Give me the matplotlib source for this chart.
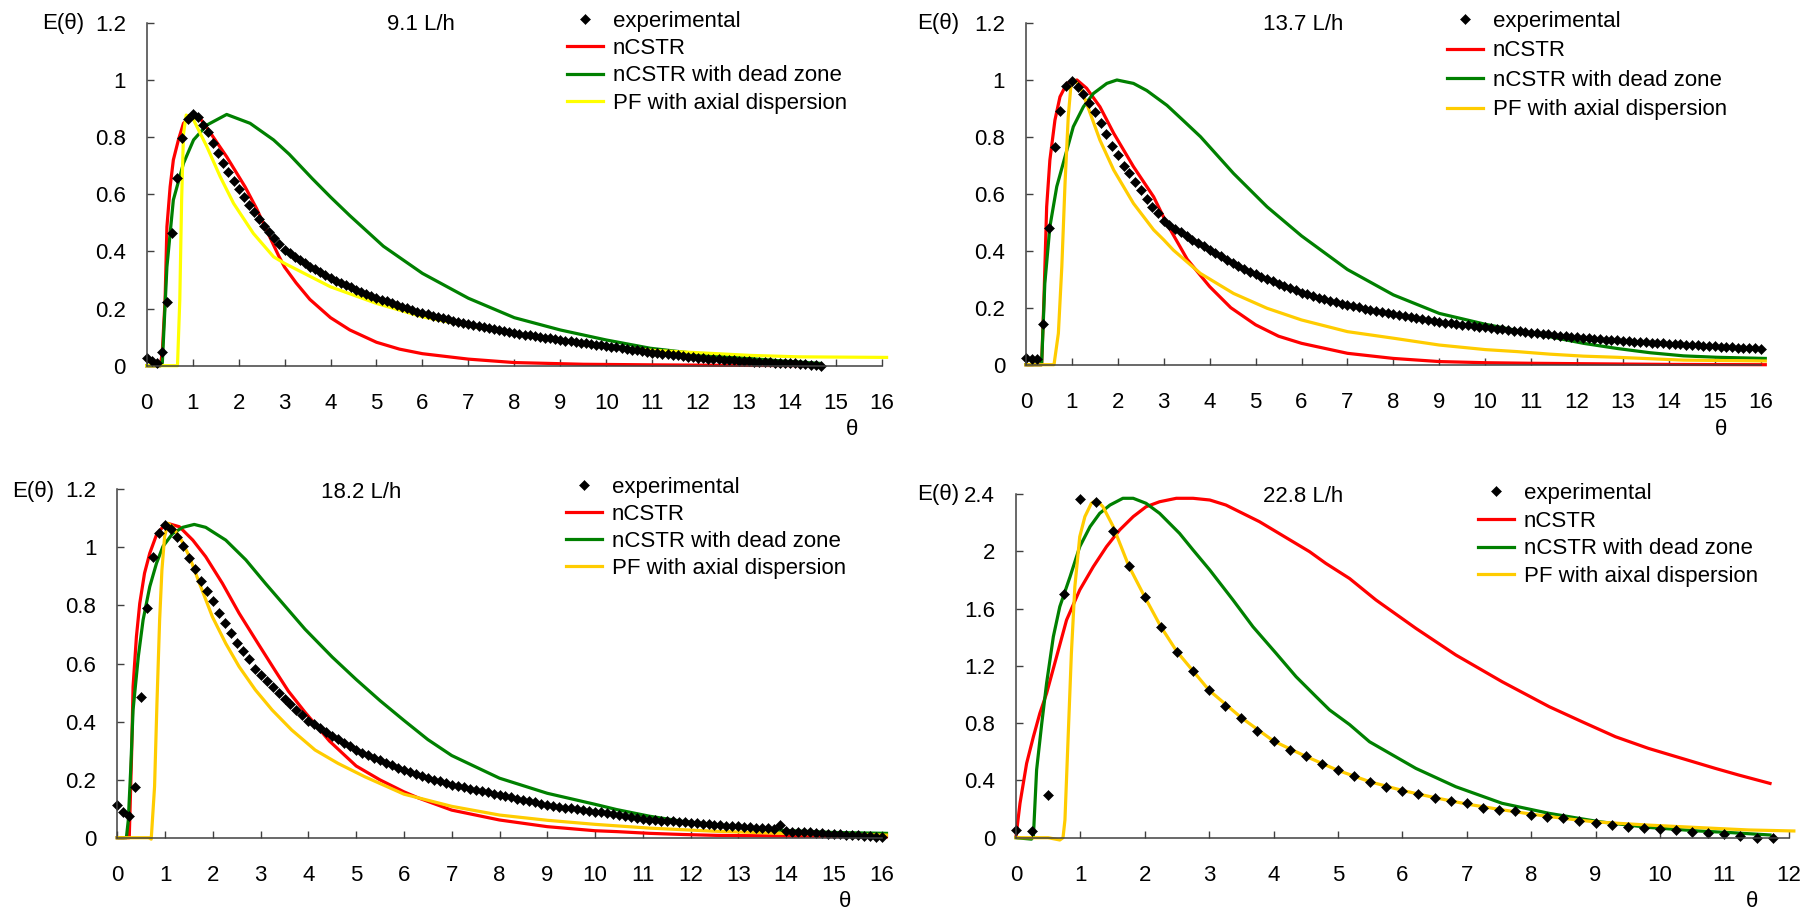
import numpy as np
import matplotlib.pyplot as plt

plt.rcParams['font.family'] = ['Liberation Sans', 'DejaVu Sans']

W, H = 1809, 923

# ---------------- 9.1 L/h ----------------
exp1_step = 1 / 9
exp1 = [0.026, 0.016, 0.008, 0.047, 0.223, 0.463, 0.658, 0.795, 0.862, 0.879,
        0.869, 0.842, 0.816, 0.780, 0.743, 0.708, 0.676, 0.646, 0.617, 0.589,
        0.562, 0.537, 0.513, 0.490, 0.467, 0.446, 0.425, 0.405, 0.393, 0.381,
        0.370, 0.358, 0.347, 0.337, 0.327, 0.317, 0.307, 0.298, 0.290, 0.282,
        0.274, 0.266, 0.258, 0.251, 0.244, 0.237, 0.231, 0.225, 0.219, 0.213,
        0.207, 0.201, 0.195, 0.189, 0.184, 0.180, 0.175, 0.171, 0.167, 0.163,
        0.158, 0.154, 0.150, 0.146, 0.143, 0.139, 0.136, 0.132, 0.129, 0.125,
        0.122, 0.118, 0.115, 0.112, 0.109, 0.107, 0.104, 0.101, 0.098, 0.096,
        0.093, 0.090, 0.088, 0.085, 0.083, 0.081, 0.078, 0.076, 0.074, 0.071,
        0.069, 0.066, 0.064, 0.061, 0.059, 0.056, 0.054, 0.051, 0.049, 0.046,
        0.044, 0.042, 0.040, 0.038, 0.036, 0.033, 0.031, 0.029, 0.027, 0.026,
        0.025, 0.023, 0.022, 0.021, 0.020, 0.019, 0.017, 0.016, 0.015, 0.014,
        0.014, 0.013, 0.012, 0.011, 0.011, 0.010, 0.009, 0.008, 0.006, 0.005,
        0.003, 0.002, 0.000]
red1_t = [0, 0.30, 0.34, 0.40, 0.44, 0.51, 0.58, 0.69, 0.80, 0.98, 1.16, 1.32, 1.74,
          2.14, 2.39, 2.62, 2.87, 3.0, 3.25, 3.55, 4.0, 4.42, 5.0, 5.5, 6.0, 7.0,
          8.0, 9.5, 11.0, 13.0, 14.66]
red1 = [0, 0, 0.05, 0.23, 0.486, 0.626, 0.72, 0.79, 0.848, 0.877, 0.866, 0.83, 0.731,
        0.626, 0.55, 0.47, 0.385, 0.345, 0.29, 0.232, 0.168, 0.125, 0.082, 0.058,
        0.042, 0.023, 0.011, 0.005, 0.003, 0.001, 0.0]
green1_t = [0, 0.30, 0.34, 0.44, 0.58, 0.80, 1.02, 1.31, 1.74, 2.25, 2.76, 3.1, 3.6,
            4.0, 4.42, 5.15, 6.0, 7.0, 8.0, 9.0, 10.0, 10.96, 12.41, 13.86, 14.66]
green1 = [0, 0, 0.01, 0.346, 0.58, 0.708, 0.79, 0.842, 0.879, 0.848, 0.79, 0.74,
          0.655, 0.59, 0.525, 0.418, 0.323, 0.236, 0.168, 0.125, 0.09, 0.061, 0.034,
          0.016, 0.008]
pf1_t = [0, 0.67, 0.72, 0.76, 0.80, 0.86, 1.02, 1.31, 1.60, 1.89, 2.32, 2.76, 3.0,
         4.0, 5.0, 6.0, 7.0, 8.0, 9.5, 10.96, 12.05, 13.14, 14.2, 16.1]
pf1 = [0, 0, 0.23, 0.58, 0.81, 0.877, 0.86, 0.766, 0.661, 0.568, 0.463, 0.381, 0.358,
       0.276, 0.218, 0.171, 0.139, 0.111, 0.074, 0.054, 0.045, 0.036, 0.031, 0.029]

# ---------------- 13.7 L/h ----------------
exp2_step = 0.125
exp2 = [0.022, 0.019, 0.019, 0.142, 0.481, 0.764, 0.891, 0.978, 0.995, 0.975,
        0.949, 0.917, 0.888, 0.847, 0.808, 0.768, 0.736, 0.698, 0.671, 0.640,
        0.613, 0.581, 0.554, 0.531, 0.505, 0.491, 0.477, 0.464, 0.451, 0.439,
        0.427, 0.415, 0.403, 0.391, 0.380, 0.369, 0.358, 0.347, 0.337, 0.327,
        0.317, 0.308, 0.300, 0.292, 0.284, 0.276, 0.268, 0.261, 0.253, 0.247,
        0.241, 0.235, 0.230, 0.224, 0.219, 0.214, 0.209, 0.205, 0.201, 0.197,
        0.193, 0.189, 0.185, 0.181, 0.178, 0.174, 0.171, 0.168, 0.164, 0.161,
        0.158, 0.154, 0.151, 0.148, 0.146, 0.143, 0.141, 0.138, 0.136, 0.133,
        0.131, 0.129, 0.126, 0.124, 0.122, 0.119, 0.117, 0.114, 0.112, 0.110,
        0.108, 0.106, 0.104, 0.102, 0.100, 0.098, 0.096, 0.094, 0.093, 0.091,
        0.090, 0.088, 0.087, 0.085, 0.084, 0.083, 0.081, 0.080, 0.079, 0.077,
        0.076, 0.075, 0.073, 0.072, 0.071, 0.070, 0.069, 0.068, 0.067, 0.066,
        0.064, 0.063, 0.062, 0.061, 0.060, 0.059, 0.058, 0.057, 0.055]
red2_t = [0, 0.34, 0.39, 0.45, 0.52, 0.63, 0.74, 0.89, 1.11, 1.32, 1.61, 1.91, 2.34,
          2.78, 3.05, 3.51, 4.0, 4.46, 5.0, 5.5, 6.0, 7.0, 8.0, 9.0, 10.0, 11.0,
          12.5, 14.0, 16.1]
red2 = [0, 0, 0.227, 0.554, 0.718, 0.858, 0.94, 0.987, 0.999, 0.97, 0.905, 0.812,
        0.695, 0.589, 0.50, 0.37, 0.274, 0.20, 0.14, 0.10, 0.075, 0.040, 0.022,
        0.011, 0.007, 0.005, 0.003, 0.001, 0.0]
green2_t = [0, 0.34, 0.41, 0.52, 0.67, 0.89, 1.03, 1.25, 1.47, 1.76, 1.98, 2.34, 2.63,
            3.07, 3.43, 3.80, 4.52, 5.25, 6.0, 7.0, 8.0, 9.0, 10.0, 10.69, 11.41,
            12.14, 12.87, 13.59, 14.32, 15.05, 16.1]
green2 = [0, 0, 0.285, 0.484, 0.625, 0.753, 0.835, 0.905, 0.952, 0.987, 0.999, 0.987,
          0.962, 0.91, 0.856, 0.80, 0.671, 0.554, 0.452, 0.334, 0.245, 0.18, 0.142,
          0.12, 0.098, 0.075, 0.057, 0.042, 0.031, 0.026, 0.022]
pf2_t = [0, 0.61, 0.705, 0.78, 0.85, 0.92, 0.975, 1.05, 1.18, 1.32, 1.61, 1.91, 2.34,
         2.78, 3.0, 3.21, 3.8, 4.52, 5.25, 6.0, 7.0, 8.0, 9.0, 10.0, 10.69, 11.41,
         12.14, 12.87, 13.59, 14.32, 16.1]
pf2 = [0, 0, 0.11, 0.344, 0.636, 0.87, 0.973, 0.999, 0.975, 0.917, 0.788, 0.683,
       0.566, 0.473, 0.438, 0.402, 0.32, 0.25, 0.198, 0.157, 0.116, 0.093, 0.069,
       0.053, 0.046, 0.037, 0.030, 0.026, 0.021, 0.016, 0.013]

# ---------------- 18.2 L/h ----------------
exp3_step = 0.125
exp3 = [0.113, 0.090, 0.075, 0.173, 0.486, 0.792, 0.966, 1.048, 1.077, 1.062,
        1.034, 1.006, 0.965, 0.926, 0.884, 0.850, 0.815, 0.773, 0.738, 0.706,
        0.669, 0.643, 0.616, 0.581, 0.560, 0.540, 0.519, 0.499, 0.479, 0.459,
        0.440, 0.421, 0.403, 0.390, 0.377, 0.364, 0.351, 0.339, 0.327, 0.315,
        0.303, 0.293, 0.284, 0.275, 0.266, 0.258, 0.249, 0.241, 0.233, 0.226,
        0.220, 0.213, 0.207, 0.200, 0.194, 0.188, 0.182, 0.177, 0.173, 0.169,
        0.164, 0.160, 0.156, 0.151, 0.147, 0.143, 0.139, 0.134, 0.130, 0.126,
        0.122, 0.117, 0.113, 0.110, 0.107, 0.104, 0.101, 0.099, 0.096, 0.093,
        0.090, 0.087, 0.084, 0.080, 0.077, 0.074, 0.071, 0.067, 0.064, 0.062,
        0.061, 0.059, 0.058, 0.056, 0.054, 0.053, 0.051, 0.049, 0.048, 0.046,
        0.045, 0.043, 0.042, 0.040, 0.039, 0.037, 0.036, 0.034, 0.033, 0.032,
        0.031, 0.044, 0.022, 0.021, 0.020, 0.019, 0.018, 0.017, 0.015, 0.014,
        0.013, 0.012, 0.010, 0.009, 0.008, 0.006, 0.005, 0.003, 0.001]
red3_t = [0, 0.25, 0.30, 0.33, 0.40, 0.47, 0.57, 0.68, 0.82, 0.955, 1.09, 1.30, 1.58,
          1.85, 2.20, 2.55, 2.96, 3.31, 3.58, 3.93, 4.44, 5.0, 5.5, 6.0, 6.3, 7.0,
          8.0, 9.0, 10.0, 10.45, 11.14, 11.84, 12.54, 13.93, 16.1]
red3 = [0, 0, 0.29, 0.52, 0.692, 0.807, 0.911, 0.98, 1.043, 1.071, 1.081, 1.071,
        1.025, 0.968, 0.876, 0.773, 0.665, 0.574, 0.505, 0.432, 0.333, 0.247, 0.199,
        0.158, 0.137, 0.095, 0.061, 0.038, 0.024, 0.021, 0.015, 0.011, 0.008, 0.006,
        0.003]
green3_t = [0, 0.19, 0.23, 0.28, 0.33, 0.44, 0.54, 0.68, 0.82, 0.955, 1.16, 1.37,
            1.61, 1.85, 2.27, 2.69, 3.10, 3.52, 3.93, 4.5, 5.0, 5.5, 6.0, 6.5, 7.0,
            8.0, 9.0, 10.0, 10.45, 11.14, 11.84, 12.54, 13.23, 13.93, 14.97, 16.1]
green3 = [0, 0, 0.06, 0.233, 0.44, 0.624, 0.75, 0.865, 0.945, 1.003, 1.048, 1.069,
          1.079, 1.069, 1.025, 0.957, 0.876, 0.796, 0.718, 0.622, 0.545, 0.472, 0.404,
          0.338, 0.283, 0.205, 0.153, 0.115, 0.097, 0.074, 0.056, 0.044, 0.033, 0.025,
          0.018, 0.015]
pf3_t = [0, 0.66, 0.71, 0.78, 0.83, 0.886, 0.934, 0.99, 1.06, 1.16, 1.34, 1.51, 1.72,
         1.99, 2.27, 2.55, 2.89, 3.24, 3.65, 4.14, 4.62, 5.18, 6.0, 7.0, 8.0, 9.0,
         10.0, 11.14, 12.54, 13.93, 16.1]
pf3 = [0, 0, -0.005, 0.176, 0.463, 0.75, 0.922, 1.037, 1.083, 1.071, 1.025, 0.968,
       0.876, 0.761, 0.669, 0.589, 0.509, 0.44, 0.371, 0.302, 0.256, 0.21, 0.15,
       0.108, 0.078, 0.06, 0.046, 0.033, 0.022, 0.015, 0.009]

# ---------------- 22.8 L/h ----------------
exp4_step = 0.25
exp4 = [0.054, 0.047, 0.298, 1.702, 2.363, 2.342, 2.144, 1.899, 1.681, 1.473,
        1.299, 1.164, 1.029, 0.922, 0.838, 0.747, 0.675, 0.612, 0.568, 0.514,
        0.470, 0.431, 0.391, 0.356, 0.328, 0.303, 0.275, 0.256, 0.240, 0.209,
        0.193, 0.186, 0.158, 0.147, 0.135, 0.116, 0.105, 0.086, 0.077, 0.070,
        0.060, 0.054, 0.042, 0.035, 0.023, 0.012, 0.000, -0.005]
red4_t = [0, 0.062, 0.165, 0.27, 0.37, 0.475, 0.63, 0.785, 0.99, 1.2, 1.405, 1.61,
          1.82, 2.02, 2.23, 2.49, 2.75, 3.01, 3.26, 3.52, 3.78, 4.04, 4.30, 4.56,
          4.81, 5.18, 5.59, 6.21, 6.83, 7.55, 8.28, 8.79, 9.31, 9.82, 10.34, 10.86,
          11.22, 11.71]
red4 = [0.007, 0.24, 0.519, 0.705, 0.868, 1.008, 1.264, 1.52, 1.73, 1.892, 2.032,
        2.149, 2.242, 2.311, 2.346, 2.37, 2.37, 2.358, 2.323, 2.265, 2.207, 2.137,
        2.067, 1.997, 1.916, 1.81, 1.66, 1.462, 1.276, 1.089, 0.915, 0.81, 0.705,
        0.624, 0.554, 0.484, 0.438, 0.379]
green4_t = [0, 0.24, 0.27, 0.32, 0.40, 0.475, 0.58, 0.68, 0.84, 0.99, 1.15, 1.30,
            1.46, 1.66, 1.82, 2.02, 2.23, 2.54, 2.75, 3.01, 3.37, 3.68, 4.04, 4.35,
            4.66, 4.87, 5.18, 5.49, 6.21, 6.83, 7.55, 8.28, 9.05, 9.82, 10.6, 11.12,
            11.71]
green4 = [0, -0.01, 0.007, 0.473, 0.798, 1.078, 1.404, 1.613, 1.823, 2.032, 2.172,
          2.265, 2.323, 2.37, 2.37, 2.335, 2.265, 2.125, 2.009, 1.869, 1.66, 1.473,
          1.287, 1.124, 0.985, 0.892, 0.79, 0.67, 0.484, 0.356, 0.24, 0.17, 0.112,
          0.072, 0.047, 0.035, 0.019]
pf4_t = [0, 0.50, 0.68, 0.73, 0.76, 0.81, 0.86, 0.914, 0.99, 1.07, 1.17, 1.25, 1.35,
         1.51, 1.75, 2.0, 2.25, 2.5, 2.75, 3.0, 3.5, 4.0, 4.5, 5.0, 5.5, 6.0, 6.5,
         7.0, 7.5, 8.0, 8.5, 9.0, 9.82, 10.86, 11.38, 12.08]
pf4 = [0, 0, -0.016, 0, 0.123, 0.705, 1.287, 1.753, 2.102, 2.242, 2.335, 2.358, 2.311,
       2.172, 1.899, 1.681, 1.473, 1.299, 1.164, 1.029, 0.838, 0.675, 0.568, 0.47,
       0.39, 0.33, 0.28, 0.235, 0.198, 0.165, 0.135, 0.11, 0.088, 0.065, 0.054, 0.047]

labels = ['experimental', 'nCSTR', 'nCSTR with dead zone', 'PF with axial dispersion']
labels4 = ['experimental', 'nCSTR', 'nCSTR with dead zone', 'PF with aixal dispersion']

AXC = '#404040'
FS = 16


def fxy(x, y):
    return x / W, 1 - y / H


def panel(fig, box, exp, step, red, green, pf, pf_color, xmax, ymax, ystep,
          title, title_xy, e_xy, th_xy, leg_xy, leg_labels, lspace):
    l, t, r, b = box
    ax = fig.add_axes([l / W, 1 - b / H, (r - l) / W, (b - t) / H])
    lr, = ax.plot(red[0], red[1], color='#FF0000', lw=2.3, clip_on=False)
    lg, = ax.plot(green[0], green[1], color='#008000', lw=2.3, clip_on=False)
    lp, = ax.plot(pf[0], pf[1], color=pf_color, lw=2.3, clip_on=False)
    th = np.arange(len(exp)) * step
    le, = ax.plot(th, exp, 'D', color='black', ms=5.5, mew=0.4, ls='none',
                  clip_on=False)
    ax.set_xlim(0, xmax)
    ax.set_ylim(0, ymax)
    ax.set_xticks(np.arange(0, xmax + 1, 1))
    ax.set_yticks(np.arange(0, ymax + ystep / 2, ystep))
    ax.yaxis.set_major_formatter(plt.FuncFormatter(lambda v, p: '%g' % round(v, 2)))
    for s in ['top', 'right']:
        ax.spines[s].set_visible(False)
    for s in ['left', 'bottom']:
        ax.spines[s].set_color(AXC)
        ax.spines[s].set_linewidth(1.1)
    ax.tick_params(axis='both', direction='in', length=4.8, width=1.0, color=AXC,
                   labelsize=FS)
    ax.tick_params(axis='y', pad=15)
    ax.tick_params(axis='x', pad=20)
    ax.legend([le, lr, lg, lp], leg_labels, loc='upper left',
              bbox_to_anchor=fxy(*leg_xy), bbox_transform=fig.transFigure,
              frameon=False, borderpad=0, borderaxespad=0, handlelength=1.6,
              handletextpad=0.45, labelspacing=lspace, fontsize=FS, numpoints=1)
    fig.text(*fxy(*title_xy), title, fontsize=FS, ha='left', va='center')
    fig.text(*fxy(*e_xy), 'E(θ)', fontsize=FS, ha='left', va='center')
    fig.text(*fxy(*th_xy), 'θ', fontsize=FS, ha='center', va='center')
    return ax


fig = plt.figure(figsize=(W / 100, H / 100), dpi=100)

panel(fig, (146.7, 22.7, 882, 365.7), exp1, exp1_step, (red1_t, red1),
      (green1_t, green1), (pf1_t, pf1), '#FFFF00', 16, 1.2, 0.2,
      '9.1 L/h', (386.7, 25), (42, 23), (852, 429), (567, 11), labels, 0.28)
panel(fig, (1026, 22.7, 1760.7, 364.7), exp2, exp2_step, (red2_t, red2),
      (green2_t, green2), (pf2_t, pf2), '#FFCC00', 16, 1.2, 0.2,
      '13.7 L/h', (1262.7, 25), (916.7, 23), (1721, 429), (1447, 11), labels, 0.38)
panel(fig, (117.3, 489.3, 881.7, 837.7), exp3, exp3_step, (red3_t, red3),
      (green3_t, green3), (pf3_t, pf3), '#FFCC00', 16, 1.2, 0.2,
      '18.2 L/h', (321, 493), (11.7, 491.7), (845, 901.7), (566, 477), labels, 0.27)
panel(fig, (1016, 494, 1788.7, 837.7), exp4, exp4_step, (red4_t, red4),
      (green4_t, green4), (pf4_t, pf4), '#FFCC00', 12, 2.4, 0.4,
      '22.8 L/h', (1262.7, 496.7), (916.7, 495), (1751.7, 901.7), (1478, 483),
      labels4, 0.3)

fig.savefig('out.png', dpi=100)
